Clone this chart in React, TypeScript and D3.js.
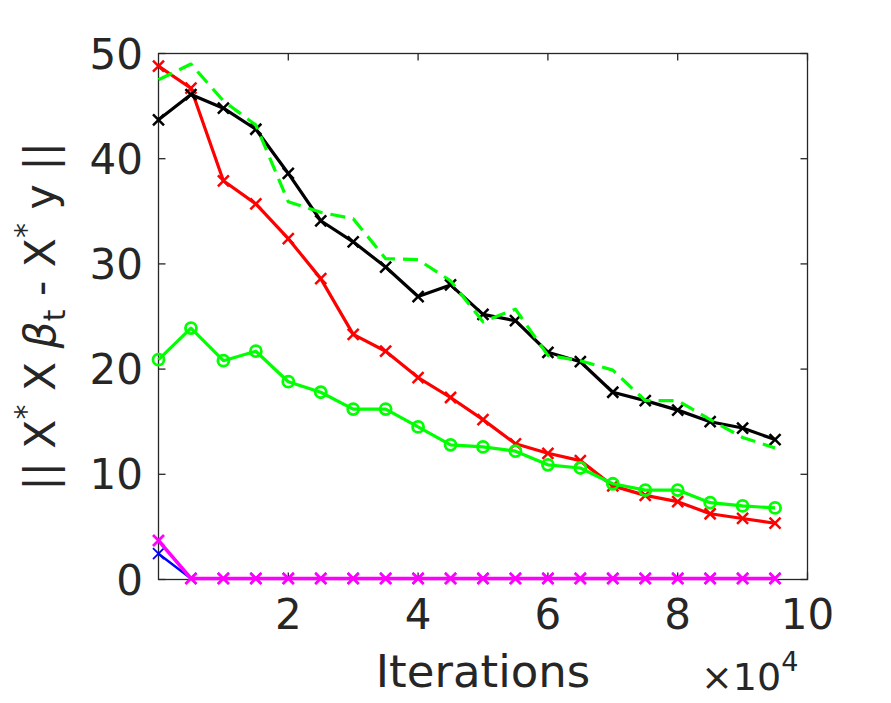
import * as d3 from "d3";

// iterations (x 10^4)
const iters = [0, 0.5, 1, 1.5, 2, 2.5, 3, 3.5, 4, 4.5, 5, 5.5, 6, 6.5, 7, 7.5, 8, 8.5, 9, 9.5];

const blackSeries = [43.7, 46.1, 44.8, 42.8, 38.6, 34.1, 32.1, 29.7, 26.9, 28.0, 25.2, 24.6, 21.6, 20.7, 17.8, 17.0, 16.1, 15.0, 14.4, 13.3];
const greenDashed = [47.5, 49.0, 45.5, 43.2, 35.9, 34.9, 34.3, 30.5, 30.4, 28.4, 24.5, 25.7, 21.3, 20.8, 19.9, 17.0, 17.0, 15.2, 13.5, 12.5];
const redSeries = [48.8, 46.7, 37.9, 35.7, 32.4, 28.6, 23.3, 21.7, 19.2, 17.3, 15.2, 12.9, 12.0, 11.3, 8.9, 8.0, 7.4, 6.25, 5.8, 5.35];
const greenCircles = [20.9, 23.9, 20.8, 21.7, 18.8, 17.8, 16.2, 16.2, 14.5, 12.8, 12.6, 12.2, 10.9, 10.6, 9.1, 8.5, 8.5, 7.3, 7.0, 6.8];
const blueSeries = [2.45, 0.1, 0.1, 0.1, 0.1, 0.1, 0.1, 0.1, 0.1, 0.1, 0.1, 0.1, 0.1, 0.1, 0.1, 0.1, 0.1, 0.1, 0.1, 0.1];
const magentaSeries = [3.7, 0.1, 0.1, 0.1, 0.1, 0.1, 0.1, 0.1, 0.1, 0.1, 0.1, 0.1, 0.1, 0.1, 0.1, 0.1, 0.1, 0.1, 0.1, 0.1];

const xTicks = [2, 4, 6, 8, 10];
const yTicks = [0, 10, 20, 30, 40, 50];

const W = 891;
const H = 703;
const axisColor = "#262626";
const font = "'DejaVu Sans', sans-serif";

type Series = {
  values: number[];
  color: string;
  marker: "x" | "o" | "none";
  dash?: string;
  width: number;
  markerWidth: number;
};

// drawing order: later ones on top
const series: Series[] = [
  { values: redSeries, color: "#ff0000", marker: "x", width: 3.2, markerWidth: 2.5 },
  { values: blackSeries, color: "#000000", marker: "x", width: 3.2, markerWidth: 2.5 },
  { values: greenDashed, color: "#00ff00", marker: "none", dash: "15,8", width: 3.2, markerWidth: 2.5 },
  { values: greenCircles, color: "#00ff00", marker: "o", width: 3.2, markerWidth: 2.8 },
  { values: blueSeries, color: "#0000ff", marker: "x", width: 2.4, markerWidth: 1.8 },
  { values: magentaSeries, color: "#ff00ff", marker: "x", width: 3.6, markerWidth: 2.8 },
];

export default function App() {
  const x = d3.scaleLinear().domain([0, 10]).range([158.5, 807.5]);
  const y = d3.scaleLinear().domain([0, 50]).range([579.5, 53.5]);
  const [x0, x1] = x.range();
  const [y0, y1] = y.range();
  const tickLen = 7;

  const line = (vals: number[]) =>
    d3
      .line<number>()
      .x((_, i) => x(iters[i]))
      .y((d) => y(d))(vals) ?? "";

  return (
    <svg
      width={W}
      height={H}
      style={{ position: "absolute", left: 0, top: 0, background: "#fff" }}
      fontFamily={font}
    >
      <rect width={W} height={H} fill="#fff" />

      {/* box (below the data, like MATLAB's default layer) */}
      <rect x={x0} y={y1} width={x1 - x0} height={y0 - y1} fill="none" stroke={axisColor} strokeWidth={1.3} />

      {/* x ticks */}
      {xTicks.map((t) => (
        <g key={"x" + t}>
          <line x1={x(t)} x2={x(t)} y1={y0} y2={y0 - tickLen} stroke={axisColor} strokeWidth={1.3} />
          <line x1={x(t)} x2={x(t)} y1={y1} y2={y1 + tickLen} stroke={axisColor} strokeWidth={1.3} />
          <text x={x(t)} y={629} textAnchor="middle" fontSize={42} fill={axisColor}>
            {t}
          </text>
        </g>
      ))}

      {/* y ticks */}
      {yTicks.map((t) => (
        <g key={"y" + t}>
          <line x1={x0} x2={x0 + tickLen} y1={y(t)} y2={y(t)} stroke={axisColor} strokeWidth={1.3} />
          <line x1={x1} x2={x1 - tickLen} y1={y(t)} y2={y(t)} stroke={axisColor} strokeWidth={1.3} />
          <text x={143} y={y(t) + 15} textAnchor="end" fontSize={42} fill={axisColor}>
            {t}
          </text>
        </g>
      ))}

      {/* series */}
      <g>
        {series.map((s, si) => (
          <g key={si}>
            <path
              d={line(s.values)}
              fill="none"
              stroke={s.color}
              strokeWidth={s.width}
              strokeDasharray={s.dash}
              strokeLinejoin="round"
            />
            {s.marker === "x" &&
              s.values.map((v, i) => (
                <path
                  key={i}
                  transform={`translate(${x(iters[i])},${y(v)})`}
                  d="M-5.5,-5.5L5.5,5.5M-5.5,5.5L5.5,-5.5"
                  stroke={s.color}
                  strokeWidth={s.markerWidth}
                  fill="none"
                />
              ))}
            {s.marker === "o" &&
              s.values.map((v, i) => (
                <circle
                  key={i}
                  cx={x(iters[i])}
                  cy={y(v)}
                  r={5.5}
                  stroke={s.color}
                  strokeWidth={s.markerWidth}
                  fill="none"
                />
              ))}
          </g>
        ))}
      </g>

      {/* x label */}
      <text x={(x0 + x1) / 2} y={687} textAnchor="middle" fontSize={45} fill={axisColor}>
        Iterations
      </text>

      {/* exponent */}
      <text x={701} y={690} fontSize={38} fill={axisColor}>
        ×10
        <tspan fontSize={27} dy={-19}>
          4
        </tspan>
      </text>

      {/* y label */}
      <text
        transform={`translate(55,${(y0 + y1) / 2}) rotate(-90)`}
        textAnchor="middle"
        fontSize={42.5}
        fill={axisColor}
      >
        || X
        <tspan fontSize={30} dy={-19}>*</tspan>
        <tspan dy={19}> X </tspan>
        <tspan fontStyle="italic">β</tspan>
        <tspan fontSize={30} dy={10}>t</tspan>
        <tspan dy={-10}> - X</tspan>
        <tspan fontSize={30} dy={-19}>*</tspan>
        <tspan dy={19}> y ||</tspan>
      </text>
    </svg>
  );
}
